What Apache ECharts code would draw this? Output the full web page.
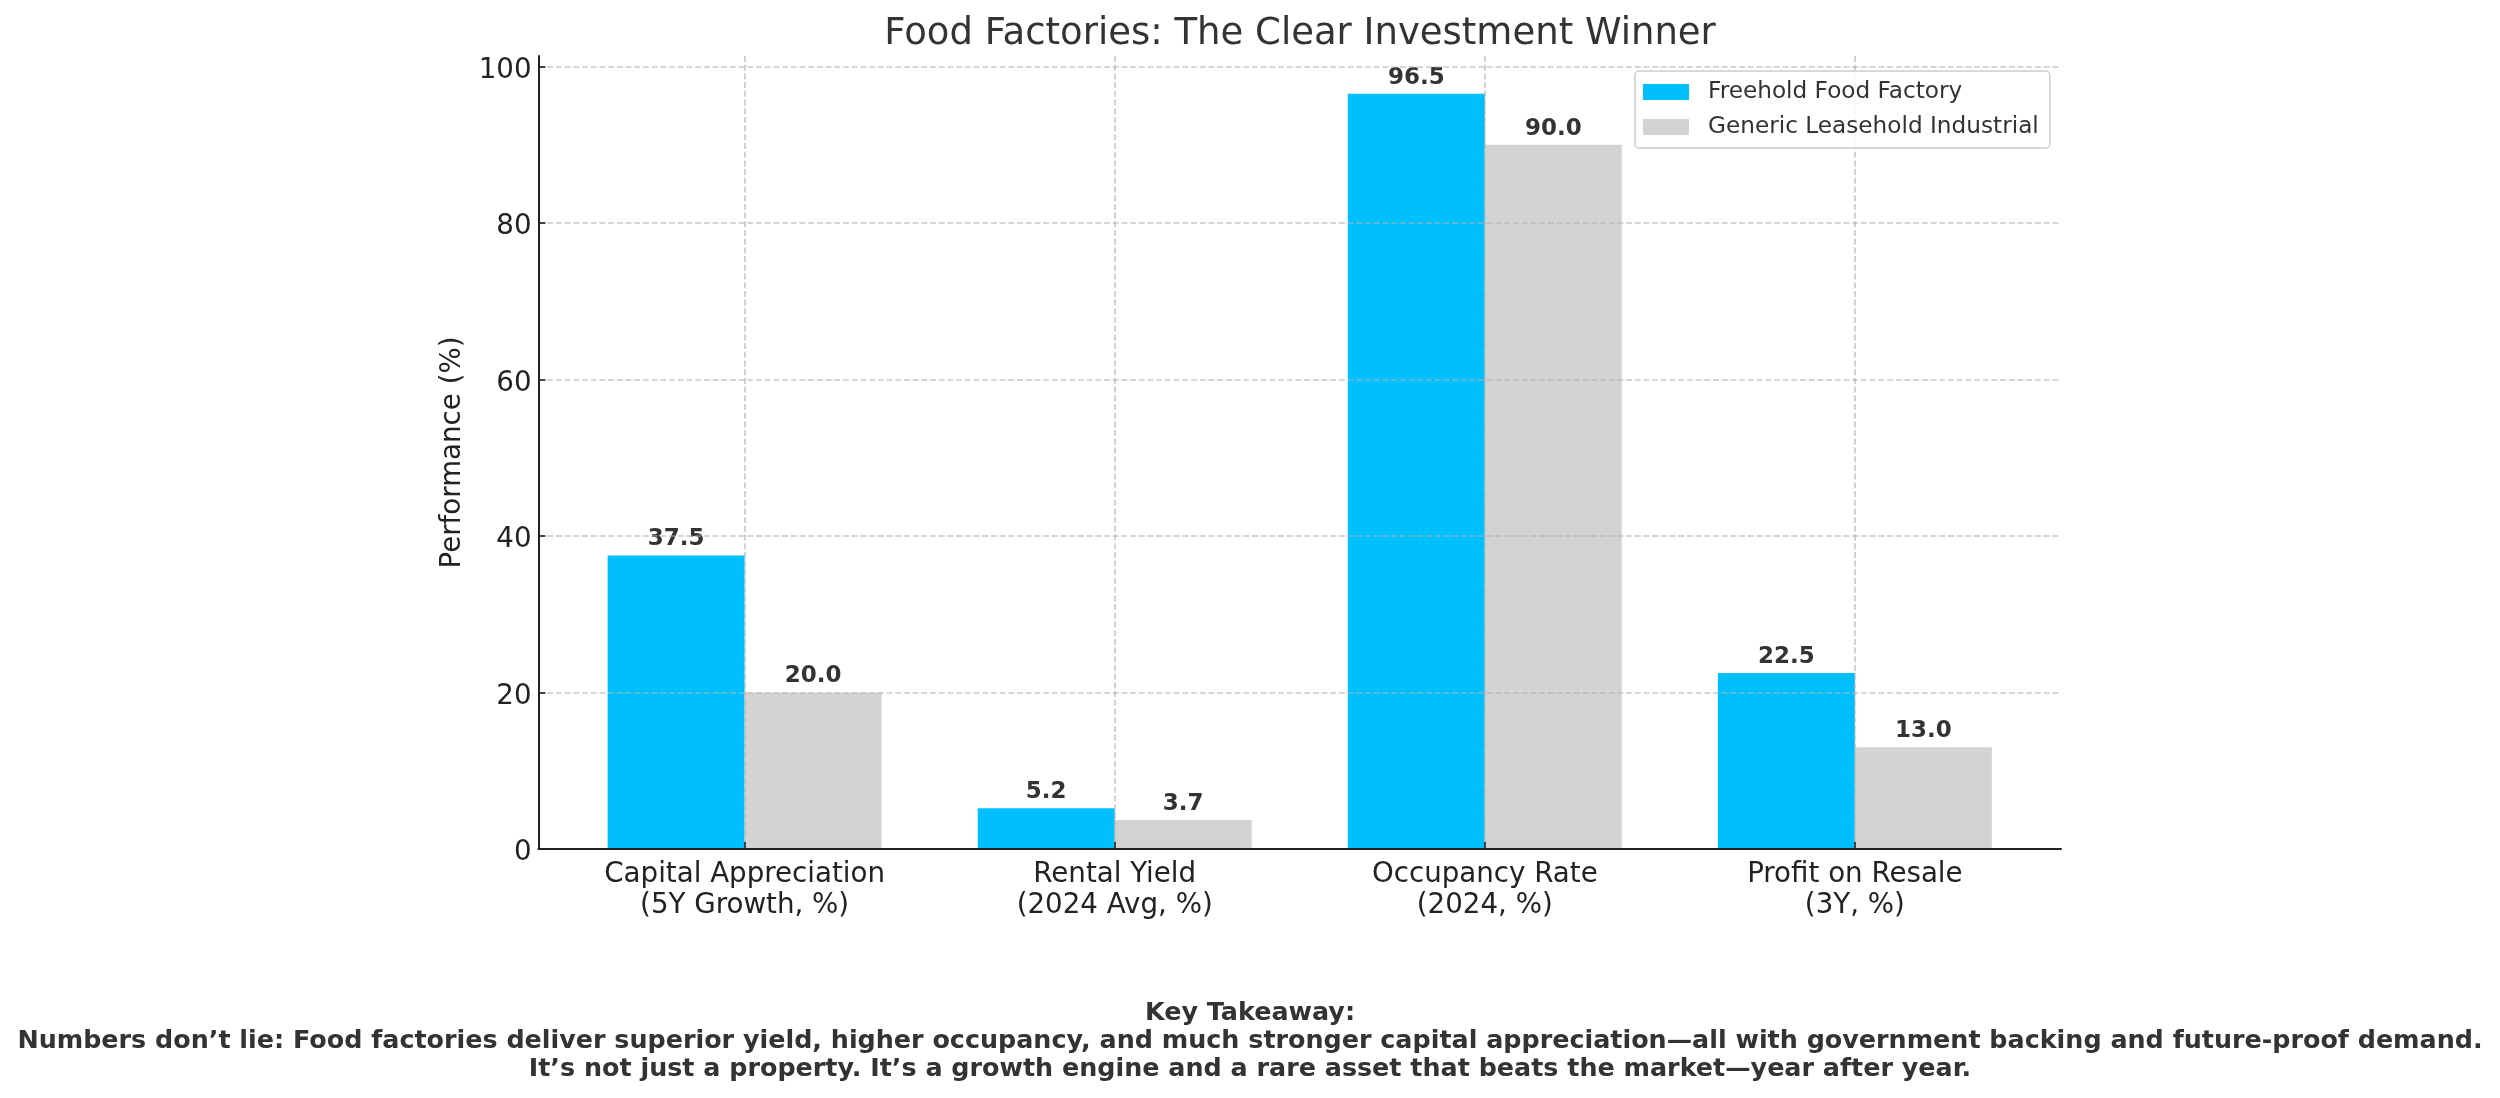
<!DOCTYPE html>
<html>
<head>
<meta charset="utf-8">
<script src="https://cdn.jsdelivr.net/npm/echarts@6/dist/echarts.min.js"></script>
<style>
html,body{margin:0;padding:0;background:#fff;}
#chart{width:2500px;height:1098px;}
</style>
</head>
<body>
<div id="chart"></div>
<script>
const categories = [
  'Capital Appreciation\n(5Y Growth, %)',
  'Rental Yield\n(2024 Avg, %)',
  'Occupancy Rate\n(2024, %)',
  'Profit on Resale\n(3Y, %)'
];
const freehold = [37.5, 5.2, 96.5, 22.5];
const leasehold = [20.0, 3.7, 90.0, 13.0];
const seriesNames = ['Freehold Food Factory', 'Generic Leasehold Industrial'];
const yTicks = [0, 20, 40, 60, 80, 100];
const titleText = 'Food Factories: The Clear Investment Winner';
const takeaway = 'Key Takeaway:\nNumbers don\u2019t lie: Food factories deliver superior yield, higher occupancy, and much stronger capital appreciation\u2014all with government backing and future-proof demand.\nIt\u2019s not just a property. It\u2019s a growth engine and a rare asset that beats the market\u2014year after year.';

const catIdx = categories.map((c, i) => i);
const FONT = 'DejaVu Sans';
const gridColor = 'rgba(176,176,176,0.7)';

const chart = echarts.init(document.getElementById('chart'), null, {renderer: 'canvas'});
chart.setOption({
  backgroundColor: '#ffffff',
  animation: false,
  textStyle: {fontFamily: FONT},
  title: {
    text: titleText,
    left: 1300, top: 12.5, textAlign: 'center', padding: 0,
    textStyle: {fontFamily: FONT, fontSize: 37, fontWeight: 'normal', color: '#333', lineHeight: 44}
  },
  graphic: [{
    type: 'text', x: 1250, y: 999, z: 10,
    style: {
      text: takeaway, align: 'center', verticalAlign: 'top',
      font: 'bold 25.4px "DejaVu Sans"', lineHeight: 28, fill: '#333'
    }
  }],
  legend: {
    orient: 'vertical', left: 1635, top: 71,
    itemWidth: 46, itemHeight: 16, itemGap: 9,
    padding: [8, 11, 8, 8],
    borderColor: '#cccccc', borderWidth: 1.5, borderRadius: 4,
    backgroundColor: 'rgba(255,255,255,0.8)',
    icon: 'rect',
    textStyle: {fontFamily: FONT, fontSize: 23.2, color: '#333', lineHeight: 26, padding: [0, 0, 0, 14]},
    data: seriesNames
  },
  grid: {left: 538.5, right: 439, top: 56, bottom: 249, containLabel: false},
  xAxis: {
    type: 'value', min: -0.557, max: 3.557, z: 3,
    axisLine: {show: true, onZero: false, lineStyle: {color: '#222', width: 2}},
    axisTick: {show: true, inside: true, length: 7, customValues: catIdx, lineStyle: {color: '#222', width: 1.6}},
    axisLabel: {
      show: true, customValues: catIdx, margin: 10,
      fontFamily: FONT, fontSize: 27.7, color: '#222', lineHeight: 31,
      formatter: v => categories[Math.round(v)] || ''
    },
    splitLine: {show: true, lineStyle: {color: gridColor, type: [6, 2.7], width: 1.6}}
  },
  yAxis: {
    type: 'value', min: 0, max: 101.325, z: 3,
    name: 'Performance (%)', nameLocation: 'middle', nameGap: 72, nameRotate: 90,
    nameTextStyle: {fontFamily: FONT, fontSize: 27.7, color: '#222'},
    axisLine: {show: true, onZero: false, lineStyle: {color: '#222', width: 2}},
    axisTick: {show: true, inside: true, length: 7, customValues: yTicks, lineStyle: {color: '#222', width: 1.6}},
    axisLabel: {
      show: true, customValues: yTicks, margin: 7,
      formatter: v => '{t|' + v + '}',
      rich: {t: {fontFamily: FONT, fontSize: 27.7, color: '#222', padding: [8, 0, 0, 0]}}
    },
    splitLine: {show: true, lineStyle: {color: gridColor, type: [6, 2.7], width: 1.6}}
  },
  series: [
    {
      name: seriesNames[0], type: 'bar', barWidth: 137, barGap: 0,
      itemStyle: {color: '#00BFFF'},
      label: {show: true, position: 'top', distance: 4.5, fontFamily: FONT, fontSize: 23, fontWeight: 'bold', color: '#333',
        formatter: p => p.value[1].toFixed(1)},
      data: freehold.map((v, i) => [catIdx[i], v])
    },
    {
      name: seriesNames[1], type: 'bar', barWidth: 137, barGap: 0,
      itemStyle: {color: '#D3D3D3'},
      label: {show: true, position: 'top', distance: 4.5, fontFamily: FONT, fontSize: 23, fontWeight: 'bold', color: '#333',
        formatter: p => p.value[1].toFixed(1)},
      data: leasehold.map((v, i) => [catIdx[i], v])
    }
  ]
});
</script>
</body>
</html>
